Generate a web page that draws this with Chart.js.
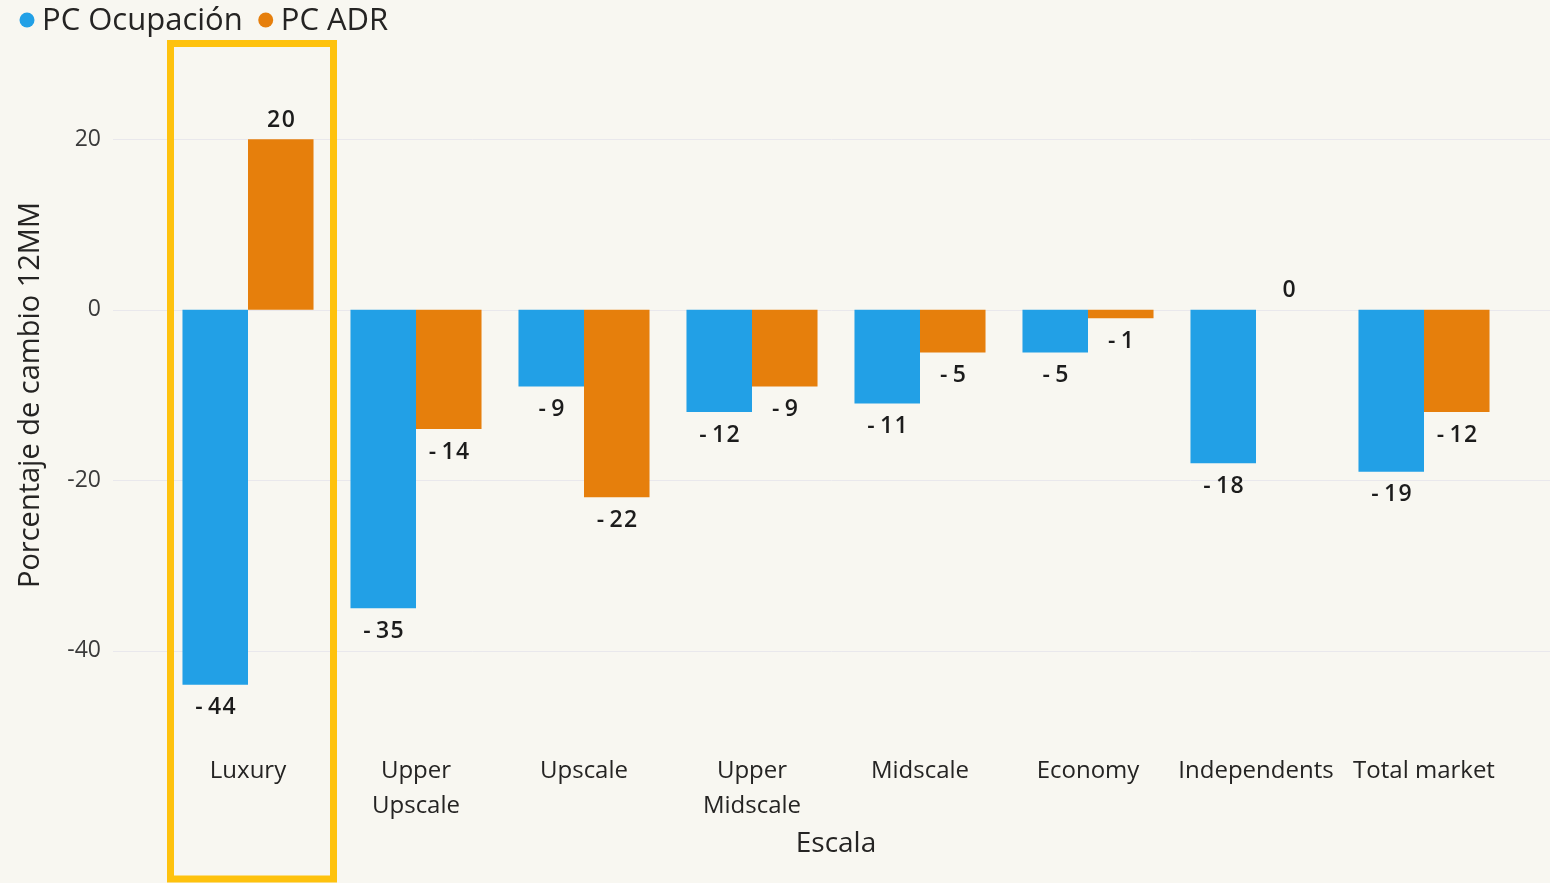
<!DOCTYPE html>
<html>
<head>
<meta charset="utf-8">
<script src="https://cdn.jsdelivr.net/npm/chart.js@4"></script>
<style>
  html, body { margin: 0; padding: 0; background: #f8f7f1; }
  #wrap { width: 1550px; height: 883px; position: relative; }
</style>
</head>
<body>
<div id="wrap"><canvas id="chart"></canvas></div>
<script>
var categories = ['Luxury', ['Upper', 'Upscale'], 'Upscale', ['Upper', 'Midscale'], 'Midscale', 'Economy', 'Independents', 'Total market'];
var seriesNames = ['PC Ocupación', 'PC ADR'];
var ocupacion = [-44, -35, -9, -12, -11, -5, -18, -19];
var adr = [20, -14, -22, -9, -5, -1, 0, -12];
var yTicks = [-40, -20, 0, 20];

var blue = '#22a0e6', orange = '#e67f0c', textColor = '#252423';

// grid lines reach further left than the plot, like the original
var gridPlugin = {
	id: 'wideGrid',
	beforeDatasetsDraw: function (chart) {
		var ctx = chart.ctx, y = chart.scales.y;
		ctx.save();
		ctx.strokeStyle = '#e9e8ec';
		ctx.lineWidth = 1;
		yTicks.forEach(function (v) {
			var py = Math.round(y.getPixelForValue(v)) + 0.5;
			ctx.beginPath();
			ctx.moveTo(113, py);
			ctx.lineTo(chart.width, py);
			ctx.stroke();
		});
		ctx.restore();
	}
};

var labelPlugin = {
	id: 'valueLabels',
	afterDatasetsDraw: function (chart) {
		var ctx = chart.ctx;
		ctx.save();
		ctx.font = '600 23px "Open Sans"';
		ctx.fillStyle = '#1c1c1c';
		ctx.textAlign = 'center';
		ctx.textBaseline = 'middle';
		ctx.letterSpacing = '1.5px';
		chart.data.datasets.forEach(function (ds, i) {
			chart.getDatasetMeta(i).data.forEach(function (bar, j) {
				var v = ds.data[j];
				var py = v < 0 ? bar.y + 23 : bar.y - 19;
				ctx.fillText(String(v).replace('-', '-\u200A'), bar.x + 1, py);
			});
		});
		ctx.restore();
	}
};

// legend drawn by hand so it can sit tight in the top-left corner
var legendPlugin = {
	id: 'topLegend',
	afterDraw: function (chart) {
		var ctx = chart.ctx, x = 27, y = 20;
		ctx.save();
		ctx.font = '31px "Open Sans"';
		ctx.textBaseline = 'middle';
		chart.data.datasets.forEach(function (ds) {
			ctx.fillStyle = ds.backgroundColor;
			ctx.beginPath();
			ctx.arc(x, y, 7.5, 0, Math.PI * 2);
			ctx.fill();
			ctx.fillStyle = textColor;
			ctx.fillText(ds.label, x + 15, y + 1);
			x += 15 + ctx.measureText(ds.label).width + 23;
		});
		ctx.restore();
	}
};

var highlightPlugin = {
	id: 'highlight',
	afterDraw: function (chart) {
		var ctx = chart.ctx, x = chart.scales.x;
		var c = x.getPixelForValue(0);
		var half = (x.getPixelForValue(1) - c) / 2;
		ctx.save();
		ctx.strokeStyle = '#fec20e';
		ctx.lineWidth = 7;
		ctx.strokeRect(c - half + 6.5, 43.5, 2 * half - 5, 835.5);
		ctx.restore();
	}
};

new Chart(document.getElementById('chart').getContext('2d'), {
	type: 'bar',
	data: {
		labels: categories,
		datasets: [
			{ label: seriesNames[0], data: ocupacion, backgroundColor: blue },
			{ label: seriesNames[1], data: adr, backgroundColor: orange }
		]
	},
	options: {
		responsive: true,
		maintainAspectRatio: false,
		animation: false,
		categoryPercentage: 0.78,
		barPercentage: 1.0,
		layout: { padding: { left: 12, right: 42, top: 54, bottom: 22 } },
		plugins: {
			legend: { display: false },
			tooltip: { enabled: false }
		},
		scales: {
			x: {
				afterFit: function (scale) {
					scale.height = 125;
				},
				grid: { display: false, drawTicks: false },
				border: { display: false },
				ticks: {
					color: textColor,
					font: { family: 'Open Sans', size: 24, lineHeight: 1.45 },
					maxRotation: 0,
					autoSkip: false,
					padding: 18
				},
				title: {
					display: true,
					text: 'Escala',
					color: textColor,
					font: { family: 'Open Sans', size: 28 },
					padding: { top: 8, bottom: 0 }
				}
			},
			y: {
				min: -50,
				max: 30,
				afterBuildTicks: function (scale) {
					scale.ticks = yTicks.map(function (v) { return { value: v }; });
				},
				afterFit: function (scale) {
					// the big label gap should not push the plot down
					scale.width = 152;
					scale.paddingTop = 0;
					scale.paddingBottom = 0;
				},
				grid: { display: false, drawTicks: false },
				border: { display: false },
				ticks: {
					color: '#3a3a3a',
					font: { family: 'Open Sans', size: 23 },
					padding: 63
				},
				title: {
					display: true,
					text: 'Porcentaje de cambio 12MM',
					color: textColor,
					font: { family: 'Open Sans', size: 29 },
					padding: { top: 1, bottom: 0 }
				}
			}
		}
	},
	plugins: [gridPlugin, labelPlugin, legendPlugin, highlightPlugin]
});
</script>
</body>
</html>
